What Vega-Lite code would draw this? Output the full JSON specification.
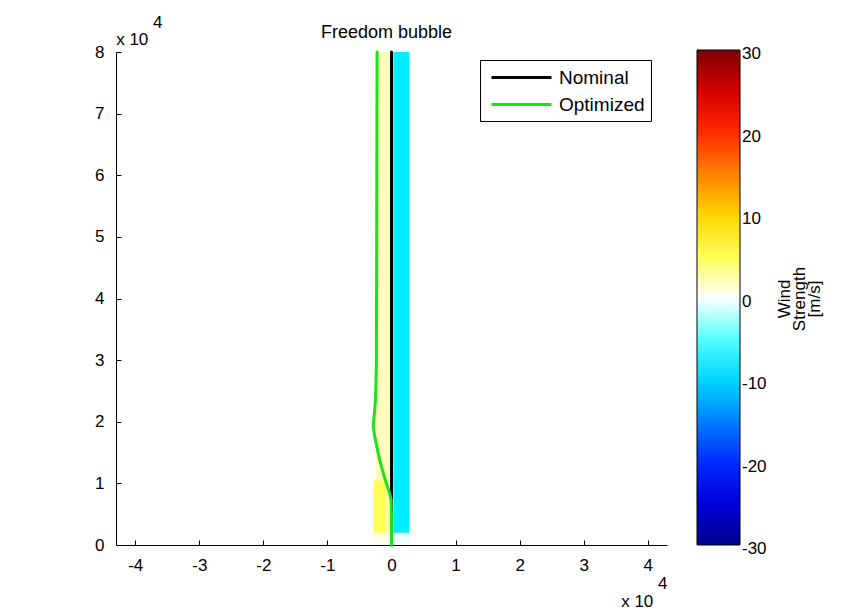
{
  "$schema": "https://vega.github.io/schema/vega-lite/v6.json",
  "width": 551,
  "height": 493,
  "autosize": {"type": "none"},
  "padding": {"left": 116, "top": 52, "right": 180, "bottom": 68},
  "background": "white",
  "title": {
    "text": "Freedom bubble",
    "font": "Liberation Sans",
    "fontSize": 18,
    "fontWeight": "normal",
    "color": "black",
    "anchor": "middle",
    "offset": 14,
    "dx": -5,
    "dy": 43
  },
  "datasets": {
    "bubble": [
      {"x": -2800, "x2": 0, "y": 0, "y2": 2000, "wind": 0.7},
      {"x": -2800, "x2": -900, "y": 2000, "y2": 10500, "wind": 5},
      {"x": -900, "x2": 0, "y": 2000, "y2": 10500, "wind": 2.5},
      {"x": -2500, "x2": 0, "y": 10500, "y2": 80000, "wind": 2},
      {"x": 0, "x2": 2800, "y": 0, "y2": 2000, "wind": -0.5},
      {"x": 300, "x2": 2800, "y": 2000, "y2": 80000, "wind": -8.5}
    ],
    "lines": [
      {"series": "Nominal", "ord": 1, "px": 0, "py": 0},
      {"series": "Nominal", "ord": 2, "px": 0, "py": 80000},
      {"series": "Optimized", "ord": 1, "px": 0, "py": 0},
      {"series": "Optimized", "ord": 2, "px": 0, "py": 4000},
      {"series": "Optimized", "ord": 3, "px": -50, "py": 7300},
      {"series": "Optimized", "ord": 4, "px": -450, "py": 8900},
      {"series": "Optimized", "ord": 5, "px": -1100, "py": 11000},
      {"series": "Optimized", "ord": 6, "px": -1850, "py": 13800},
      {"series": "Optimized", "ord": 7, "px": -2600, "py": 17500},
      {"series": "Optimized", "ord": 8, "px": -2850, "py": 19200},
      {"series": "Optimized", "ord": 9, "px": -2500, "py": 23500},
      {"series": "Optimized", "ord": 10, "px": -2350, "py": 30000},
      {"series": "Optimized", "ord": 11, "px": -2250, "py": 80000}
    ]
  },
  "layer": [
    {
      "data": {"name": "bubble"},
      "mark": {"type": "rect"},
      "encoding": {
        "x": {
          "field": "x", "type": "quantitative",
          "scale": {"domain": [-43000, 43000], "nice": false, "zero": false},
          "axis": {
            "values": [-40000, -30000, -20000, -10000, 0, 10000, 20000, 30000, 40000],
            "labelExpr": "datum.value / 10000",
            "title": ["4", "x 10\u00a0\u00a0\u00a0\u200b"],
            "titleAngle": 0,
            "titleAlign": "right",
            "titleBaseline": "alphabetic",
            "titleX": 551,
            "titleY": 43,
            "titleLineHeight": 18
          }
        },
        "x2": {"field": "x2"},
        "y": {
          "field": "y", "type": "quantitative",
          "scale": {"domain": [0, 80000], "nice": false, "zero": false},
          "axis": {
            "values": [0, 10000, 20000, 30000, 40000, 50000, 60000, 70000, 80000],
            "labelExpr": "datum.value / 10000",
            "title": ["4", "x 10\u00a0\u00a0\u00a0\u200b"],
            "titleAngle": 0,
            "titleAlign": "right",
            "titleBaseline": "alphabetic",
            "titleX": 46,
            "titleY": -25,
            "titleLineHeight": 17
          }
        },
        "y2": {"field": "y2"},
        "fill": {
          "field": "wind", "type": "quantitative",
          "scale": {
            "domain": [-30, -22.5, -7.5, 0, 7.5, 22.5, 30],
            "range": ["#00008f", "#0000ff", "#00ffff", "#ffffff", "#ffff00", "#ff0000", "#800000"],
            "interpolate": "rgb"
          },
          "legend": {
            "orient": "none",
            "legendX": 581,
            "legendY": -2,
            "direction": "vertical",
            "gradientLength": 495,
            "gradientThickness": 43,
            "gradientStrokeColor": "black",
            "gradientStrokeWidth": 1,
            "values": [-30, -20, -10, 0, 10, 20, 30],
            "labelExpr": "'' + datum.value",
            "labelFont": "Liberation Sans",
            "labelFontSize": 17,
            "labelColor": "black",
            "labelOffset": 2,
            "labelOverlap": false,
            "title": ["Wind", "Strength", "[m/s]"],
            "titleOrient": "right",
            "titleAnchor": "middle",
            "titleFont": "Liberation Sans",
            "titleFontSize": 17,
            "titleFontWeight": "normal",
            "titleColor": "black",
            "titleLineHeight": 15,
            "titlePadding": 27,
            "encode": {
              "title": {"update": {"angle": {"value": -90}, "align": {"value": "center"}, "dx": {"value": -16}}},
              "labels": {"update": {"baseline": {"value": "middle"}, "dy": {"value": 4}}}
            }
          }
        }
      }
    },
    {
      "data": {"name": "lines"},
      "mark": {"type": "line", "strokeWidth": 3, "strokeCap": "round"},
      "encoding": {
        "x": {"field": "px", "type": "quantitative"},
        "y": {"field": "py", "type": "quantitative"},
        "order": {"field": "ord", "type": "quantitative"},
        "stroke": {
          "field": "series", "type": "nominal",
          "scale": {"domain": ["Nominal", "Optimized"], "range": ["#000000", "#1ee01e"]},
          "legend": {
            "orient": "none",
            "legendX": 364,
            "legendY": 8,
            "title": null,
            "strokeColor": "black",
            "fillColor": "white",
            "padding": 6,
            "symbolType": "M-3,0H3",
            "symbolSize": 400,
            "symbolStrokeWidth": 3,
            "symbolOffset": 24,
            "labelFont": "Liberation Sans",
            "labelFontSize": 19,
            "labelColor": "black",
            "labelOffset": 26,
            "rowPadding": 5
          }
        }
      }
    }
  ],
  "config": {
    "view": {"stroke": null},
    "axis": {
      "grid": false,
      "domainColor": "black",
      "domainWidth": 1,
      "tickColor": "black",
      "tickSize": -5,
      "labelPadding": 17,
      "labelFont": "Liberation Sans",
      "labelFontSize": 17,
      "labelColor": "black",
      "titleFont": "Liberation Sans",
      "titleFontSize": 17,
      "titleFontWeight": "normal",
      "titleColor": "black"
    }
  }
}
